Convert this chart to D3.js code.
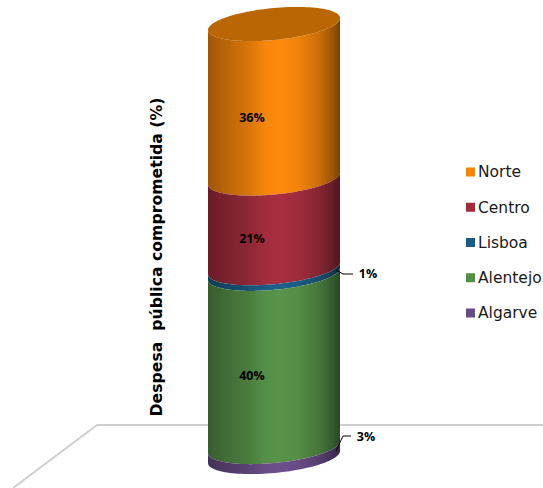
<!DOCTYPE html>
<html><head><meta charset="utf-8">
<script src="https://cdn.jsdelivr.net/npm/d3@7"></script>
<style>html,body{margin:0;padding:0;background:#fff}svg{display:block}</style>
</head><body><svg id="c" width="543" height="488"></svg>
<script>
const categories = ["Norte","Centro","Lisboa","Alentejo","Algarve"];
const values = [35.7, 20.7, 1.3, 40, 2.3];
const labels = ["36%","21%","1%","40%","3%"];
const baseColors = ["#ff8a0c","#a82e3f","#1d6089","#58944a","#6c4f8c"];
const yTitle = "Despesa\u00a0 pública comprometida (%)";

const svg = d3.select("#c");
const defs = svg.append("defs");

const x = d3.scaleLinear().domain([-1,1]).range([208,340]);
const y = d3.scaleLinear().domain([0,100]).range([463,30]);
const tilt = 6, b = 16;
const row = {}; values.forEach((v,i)=>row[i]=v);
const series = d3.stack().keys(categories.map((_,i)=>i)).order(d3.stackOrderReverse)([row]);

// floor
const lineGen = d3.line();
svg.append("path").attr("d",lineGen([[13,488],[97,425],[208,425]])).attr("fill","none").attr("stroke","#cfcfcf").attr("stroke-width",2);
svg.append("line").attr("x1",340).attr("x2",543).attr("y1",425).attr("y2",425).attr("stroke","#cfcfcf").attr("stroke-width",2);

const ts = d3.range(0,61).map(i=>Math.PI*i/60);
function arc(level){
  const yc = y(level) - tilt;
  return ts.map(t=>{
    const c = -Math.cos(t);
    return [x(c), yc + tilt*(-c) + b*Math.sin(t)];
  });
}
categories.forEach((cat,i)=>{
  const base = d3.color(baseColors[i]);
  const g = defs.append("linearGradient").attr("id","g"+i).attr("gradientUnits","userSpaceOnUse")
    .attr("x1",208).attr("x2",340).attr("y1",0).attr("y2",0);
  [[0,0.62],[0.1,0.7],[0.3,0.84],[0.44,0.97],[0.55,1],[0.68,0.95],[0.84,0.8],[0.94,0.62],[1,0.48]].forEach(([o,k])=>{
    g.append("stop").attr("offset",o)
      .attr("stop-color",d3.rgb(base.r*k,base.g*k,base.b*k).formatHex());
  });
});
const line = d3.line();
series.forEach(s=>{
  const i = s.key, d = s[0];
  const top = arc(d[1]), bot = arc(d[0]).reverse();
  svg.append("path").attr("d",line(top.concat(bot))+"Z").attr("fill",`url(#g${i})`);
});
const cy = y(d3.sum(values)) - tilt;
const ring = d3.range(0,121).map(i=>{
  const t = 2*Math.PI*i/120, c = -Math.cos(t);
  return [x(c), cy + tilt*(-c) + b*Math.sin(t)];
});
svg.append("path").attr("d",line(ring)+"Z").attr("fill","#bb6604");

// data labels
const labelFont = "'Open Sans',sans-serif";
const mid = d=>(d[0]+d[1])/2;
const labelShift = {0:10,1:9,3:9};
series.forEach(s=>{
  const i = s.key;
  if(labelShift[i]!==undefined){
    svg.append("text").attr("x",252).attr("y",y(mid(s[0]))+labelShift[i])
      .attr("text-anchor","middle").attr("font-family",labelFont).attr("font-weight",700)
      .attr("font-size",12.5).attr("fill","#000").attr("dy","0.35em").text(labels[i]);
  }
});
[
  {i:2, pts:[[336,270],[343,274],[353,274]], tx:368, ty:274},
  {i:4, pts:[[336,451],[343,436],[351,436]], tx:366, ty:437}
].forEach(l=>{
  svg.append("path").attr("d",lineGen(l.pts)).attr("fill","none").attr("stroke","#000").attr("stroke-width",1);
  svg.append("text").attr("x",l.tx).attr("y",l.ty).attr("text-anchor","middle").attr("dy","0.35em")
    .attr("font-family",labelFont).attr("font-weight",700).attr("font-size",12.5).text(labels[l.i]);
});

// axis title
svg.append("text").attr("transform","translate(162,257) rotate(-90)").attr("text-anchor","middle")
  .attr("font-family","'DejaVu Sans',sans-serif").attr("font-weight",700).attr("font-size",15.7)
  .attr("fill","#000").text(yTitle);

// legend
const ly = d3.scalePoint().domain(categories).range([172,313]);
const leg = svg.selectAll("g.leg").data(categories).join("g").attr("class","leg")
  .attr("transform",d=>`translate(466,${ly(d)})`);
leg.append("rect").attr("x",0).attr("y",-4.5).attr("width",9).attr("height",9)
  .attr("fill",(d,i)=>d3.color(baseColors[i]).darker(0.12));
leg.append("text").attr("x",12).attr("dy","0.35em").attr("font-family","'DejaVu Sans',sans-serif")
  .attr("font-size",15.5).attr("fill","#1a1a1a").text(d=>d);
</script></body></html>
